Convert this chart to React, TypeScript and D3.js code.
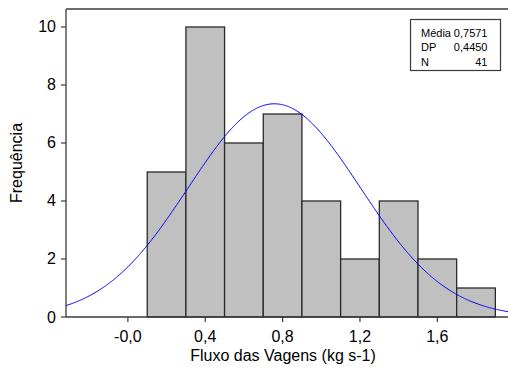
import React from "react";
import * as d3 from "d3";

// Histogram of pod flow with fitted normal curve
const binEdges = [0.1, 0.3, 0.5, 0.7, 0.9, 1.1, 1.3, 1.5, 1.7, 1.9];
const counts = [5, 10, 6, 7, 4, 2, 4, 2, 1];
const xTickValues = [0, 0.4, 0.8, 1.2, 1.6];
const xTickLabels = ["-0,0", "0,4", "0,8", "1,2", "1,6"];
const yTickValues = [0, 2, 4, 6, 8, 10];
const statLabels = ["Média", "DP", "N"];
const statValues = ["0,7571", "0,4450", "41"];
const mean = 0.7571;
const sd = 0.445;
const n = 41;

const W = 508;
const H = 369;
const FONT = "'Liberation Sans', Arial, sans-serif";

export default function App() {
  const x = d3.scaleLinear().domain([-0.32, 2.0]).range([66, 66 + 2.32 * 193.4]);
  const y = d3.scaleLinear().domain([0, 10.62]).range([317, 9]);
  const binWidth = binEdges[1] - binEdges[0];

  const pdf = (v: number) =>
    (n * binWidth) / (sd * Math.sqrt(2 * Math.PI)) *
    Math.exp(-0.5 * ((v - mean) / sd) ** 2);
  const curveXs = d3.range(-0.32, 2.0001, 0.005);
  const line = d3
    .line<number>()
    .x((v) => x(v))
    .y((v) => y(pdf(v)));

  const axisColor = "#3a3a3a";

  return (
    <div style={{ position: "fixed", left: 0, top: 0 }}>
      <svg width={W} height={H} style={{ display: "block", background: "#fff" }}>
        {/* bars */}
        {counts.map((c, i) => (
          <rect
            key={i}
            x={x(binEdges[i])}
            y={y(c)}
            width={x(binEdges[i + 1]) - x(binEdges[i])}
            height={y(0) - y(c)}
            fill="#c0c0c0"
            stroke="#2a2a2a"
            strokeWidth={1.3}
          />
        ))}
        {/* fitted normal */}
        <path d={line(curveXs) || ""} fill="none" stroke="#0000ff" strokeWidth={1} />
        {/* frame lines */}
        <line x1={66} x2={W} y1={9} y2={9} stroke={axisColor} strokeWidth={1.3} />
        <line x1={66} x2={66} y1={9} y2={317} stroke={axisColor} strokeWidth={1.3} />
        <line x1={66} x2={W} y1={317} y2={317} stroke={axisColor} strokeWidth={1.3} />
        {/* y axis ticks */}
        {yTickValues.map((t) => (
          <g key={t}>
            <line x1={61} x2={66} y1={y(t)} y2={y(t)} stroke={axisColor} strokeWidth={1.2} />
            <text
              x={56}
              y={y(t) + 5.5}
              textAnchor="end"
              fontFamily={FONT}
              fontSize={16}
              fill="#000"
            >
              {t}
            </text>
          </g>
        ))}
        {/* x axis ticks */}
        {xTickValues.map((t, i) => (
          <g key={t}>
            <line x1={x(t)} x2={x(t)} y1={317} y2={322} stroke={axisColor} strokeWidth={1.2} />
            <text
              x={x(t)}
              y={341.5}
              textAnchor="middle"
              fontFamily={FONT}
              fontSize={16}
              fill="#000"
            >
              {xTickLabels[i]}
            </text>
          </g>
        ))}
        {/* axis titles */}
        <text
          x={283}
          y={361}
          textAnchor="middle"
          fontFamily={FONT}
          fontSize={16}
          fill="#000"
        >
          Fluxo das Vagens (kg s-1)
        </text>
        <text
          transform="translate(22,163) rotate(-90)"
          textAnchor="middle"
          fontFamily={FONT}
          fontSize={16}
          fill="#000"
        >
          Frequência
        </text>
        {/* statistics box */}
        <rect x={410.5} y={19.5} width={90} height={51} fill="#fff" stroke={axisColor} strokeWidth={1.2} />
        {statLabels.map((s, i) => (
          <g key={s}>
            <text x={421} y={37 + i * 14.3} fontFamily={FONT} fontSize={11} fill="#000">
              {s}
            </text>
            <text
              x={487.5}
              y={37 + i * 14.3}
              textAnchor="end"
              fontFamily={FONT}
              fontSize={11}
              fill="#000"
            >
              {statValues[i]}
            </text>
          </g>
        ))}
      </svg>
    </div>
  );
}
